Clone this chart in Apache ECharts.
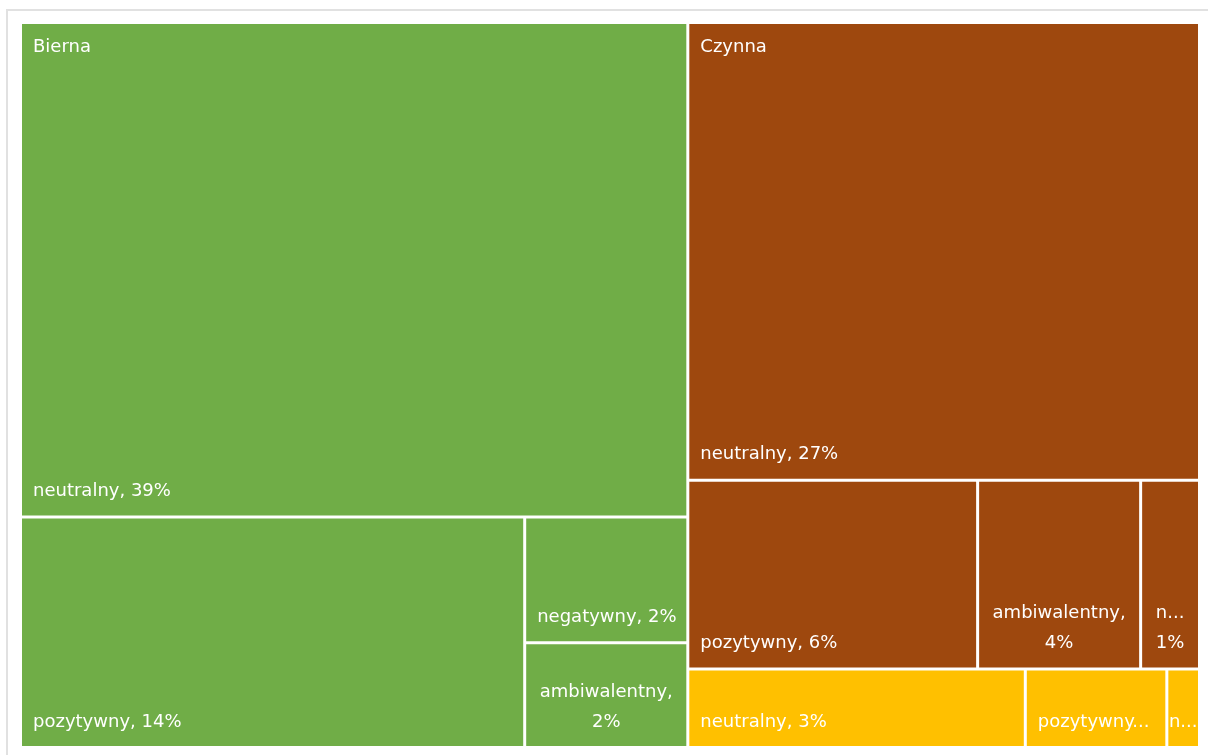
<!DOCTYPE html>
<html>
<head>
<meta charset="utf-8">
<script src="https://cdn.jsdelivr.net/npm/echarts@6/dist/echarts.min.js"></script>
<style>
  html, body { margin: 0; padding: 0; background: #ffffff; overflow: hidden; }
  #frame { position: absolute; left: 6px; top: 9px; width: 1400px; height: 900px; border-top: 2px solid #e1e1e1; border-left: 2px solid #e1e1e1; box-sizing: border-box; }
  #chart { position: absolute; left: 0; top: 0; width: 1208px; height: 755px; }
</style>
</head>
<body>
<div id="frame"></div>
<div id="chart"></div>
<script>
// ---- data ----
const groups = ['Bierna', 'Czynna', ''];
const categories = ['neutralny', 'pozytywny', 'negatywny', 'ambiwalentny'];
const biernaValues = [38.6, 13.6, 2.4, 2.0];
const czynnaValues = [27.4, 6.4, 1.3, 3.6];
const trzeciaValues = [3.1, 1.3, 0.3, 0];
const groupValues = [biernaValues, czynnaValues, trzeciaValues];
const groupColors = ['#70AD47', '#9E480E', '#FFC000'];

// ---- label settings ----
const FONT_FAMILY = 'DejaVu Sans';
const FONT_SIZE = 18;
const LINE_H = 30;
const PAD = [8, 6, 9, 11];

const total = groupValues.reduce((s, arr) => s + arr.reduce((a, b) => a + b, 0), 0);
function pctText(v) { return Math.round(v / total * 100) + '%'; }

const largestLeaf = {};
groups.forEach((g, gi) => {
  let best = 0;
  groupValues[gi].forEach((v, ci) => { if (v > groupValues[gi][best]) best = ci; });
  largestLeaf[g] = categories[best];
});

const canvas = document.createElement('canvas');
const ctx = canvas.getContext('2d');
ctx.font = FONT_SIZE + 'px "' + FONT_FAMILY + '"';
function measure(s) { return ctx.measureText(s).width; }

function buildData(labelInfo) {
  return groups.map((g, gi) => ({
    name: g,
    itemStyle: { color: groupColors[gi] },
    children: categories.map((c, ci) => {
      const v = groupValues[gi][ci];
      if (!v) return null;
      const item = { name: c, value: v };
      const info = labelInfo && labelInfo[g + '|' + c];
      if (info && (info.lines.length > 1 || info.overflow)) {
        item.label = { align: 'center', position: ['50%', '100%'], verticalAlign: 'bottom', padding: [PAD[0], 0, PAD[2], 0] };
      }
      return item;
    }).filter(Boolean)
  }));
}

function fit(l, W) {
  if (measure(l) <= W) return l;
  for (let n = l.length - 1; n >= 1; n--) {
    const t = l.slice(0, n).replace(/[\s,]+$/, '') + '...';
    if (measure(t) <= W) return t;
  }
  return l.slice(0, 1) + '...';
}
function makeLines(name, value, w, h) {
  const W = w - PAD[1] - PAD[3];
  const maxLines = Math.max(1, Math.floor((h - PAD[0] - PAD[2]) / LINE_H));
  const full = name + ', ' + pctText(value);
  if (measure(full) <= W) return { lines: [full], overflow: false };
  const words = full.split(' ');
  let lines = []; let cur = '';
  words.forEach(wd => {
    const t = cur ? cur + ' ' + wd : wd;
    if (!cur || measure(t) <= W) cur = t; else { lines.push(cur); cur = wd; }
  });
  if (cur) lines.push(cur);
  if (lines.length > maxLines) {
    lines = lines.slice(0, maxLines);
    lines[maxLines - 1] = lines[maxLines - 1].replace(/[\s,]+$/, '') + '...';
  }
  lines = lines.map(l => fit(l, W));
  const overflow = lines.some(l => measure(l) > W);
  return { lines: lines, overflow: overflow };
}

function buildOption(labelInfo) {
  const common = {
    type: 'treemap',
    left: 22, top: 24, width: 1176, height: 722,
    roam: false,
    nodeClick: false,
    breadcrumb: { show: false },
    squareRatio: 1,
    animation: false,
    levels: [
      { itemStyle: { borderWidth: 0, gapWidth: 3, borderColor: '#ffffff' } },
      { itemStyle: { borderWidth: 0, gapWidth: 3, borderColor: '#ffffff' } },
      { itemStyle: { borderWidth: 0, gapWidth: 0 } }
    ]
  };
  const mainSeries = Object.assign({}, common, {
    name: 'main',
    data: buildData(labelInfo),
    label: {
      show: true,
      position: 'insideBottomLeft',
      distance: 0,
      padding: PAD,
      color: '#ffffff',
      fontFamily: FONT_FAMILY,
      fontSize: FONT_SIZE,
      lineHeight: LINE_H,
      overflow: 'none',
      formatter: function (p) {
        const path = p.treePathInfo || [];
        const g = path.length > 1 ? path[1].name : '';
        const info = labelInfo && labelInfo[g + '|' + p.name];
        if (info) return info.lines.join('\n');
        return p.name + ', ' + pctText(p.value);
      }
    }
  });
  const overlaySeries = Object.assign({}, common, {
    name: 'groups',
    silent: true,
    data: buildData(null),
    itemStyle: { color: 'rgba(0,0,0,0)' },
    levels: [
      { itemStyle: { borderWidth: 0, gapWidth: 3, borderColor: 'rgba(0,0,0,0)' } },
      { itemStyle: { borderWidth: 0, gapWidth: 3, borderColor: 'rgba(0,0,0,0)', color: 'rgba(0,0,0,0)' } },
      { itemStyle: { borderWidth: 0, gapWidth: 0, color: 'rgba(0,0,0,0)' } }
    ],
    label: {
      show: true,
      position: 'insideTopLeft',
      distance: 0,
      padding: [8, 6, 0, 11],
      color: '#ffffff',
      fontFamily: FONT_FAMILY,
      fontSize: FONT_SIZE,
      lineHeight: LINE_H,
      overflow: 'none',
      formatter: function (p) {
        const path = p.treePathInfo || [];
        if (path.length < 3) return '';
        const g = path[1].name;
        return largestLeaf[g] === p.name ? g : '';
      }
    }
  });
  overlaySeries.data.forEach(d => { d.itemStyle = { color: 'rgba(0,0,0,0)' }; });
  return { animation: false, tooltip: { show: false }, series: [mainSeries, overlaySeries] };
}

const chart = echarts.init(document.getElementById('chart'), null, { renderer: 'canvas' });
chart.setOption(buildOption(null));
try {
  const data = chart.getModel().getSeriesByIndex(0).getData();
  const labelInfo = {};
  data.tree.eachNode(function (node) {
    if (node.depth !== 2) return;
    const lay = node.getLayout();
    if (!lay) return;
    labelInfo[node.parentNode.name + '|' + node.name] = makeLines(node.name, node.getValue(), lay.width, lay.height);
  });
  chart.setOption(buildOption(labelInfo), { notMerge: true });
} catch (e) { console.log(e); }
</script>
</body>
</html>
